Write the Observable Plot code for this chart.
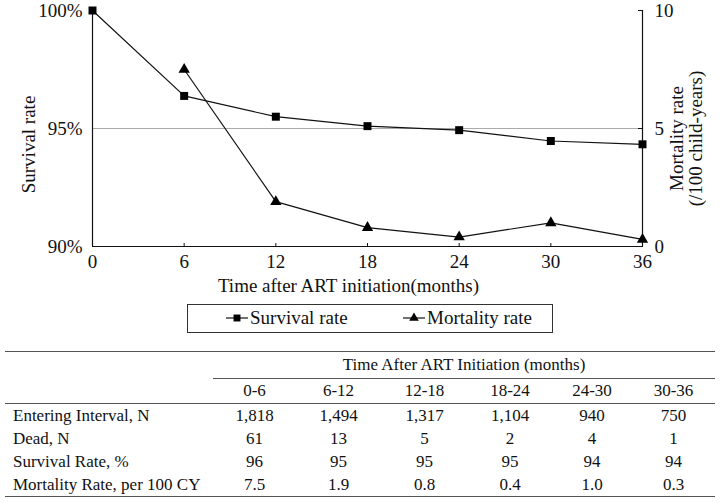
<!DOCTYPE html>
<html>
<head>
<meta charset="utf-8">
<script src="https://cdn.jsdelivr.net/npm/d3@7"></script>
<script src="https://cdn.jsdelivr.net/npm/@observablehq/plot@0.6"></script>
<style>
  html, body { margin: 0; padding: 0; background: #fff; }
  body { width: 720px; height: 502px; overflow: hidden; font-family: "Liberation Serif", "Times New Roman", serif; color: #111; }
  #legend { position: absolute; left: 187px; top: 304px; width: 364px; height: 27px; border: 1.5px solid #333; box-sizing: content-box; font-size: 19px; }
  #legend .item { position: absolute; top: 2px; white-space: nowrap; display: flex; align-items: center; }
  #legend svg { margin-right: 1px; }
  #tbl { position: absolute; left: 5px; top: 351px; width: 710px; border-collapse: collapse; font-size: 17px; }
  #tbl td { padding: 0; text-align: center; }
  #tbl td.lab { text-align: left; padding-left: 8px; }
  #tbl tr.top td { border-top: 1.5px solid #555; height: 26px; }
  #tbl tr.hdr td.span { border-bottom: 1.5px solid #555; }
  #tbl tr.cols td { border-bottom: 1.5px solid #555; height: 24px; }
  #tbl tr.row td { height: 23px; }
  #tbl tr.last td { border-bottom: 1.5px solid #555; }
</style>
</head>
<body>
<div id="chart"></div>
<div id="legend"></div>
<table id="tbl"></table>
<script>
// ---- data ----
const months = [0, 6, 12, 18, 24, 30, 36];
const survival = [100, 96.38, 95.50, 95.10, 94.93, 94.47, 94.33];
const mortMonths = [6, 12, 18, 24, 30, 36];
const mortality = [7.5, 1.9, 0.8, 0.4, 1.0, 0.3];
const xTicks = [0, 6, 12, 18, 24, 30, 36];
const leftTicks = [90, 95, 100];
const rightTicks = [0, 5, 10];
const seriesNames = ["Survival rate", "Mortality rate"];
const xTitle = "Time after ART initiation(months)";
const yLeftTitle = "Survival rate";
const yRightTitle = "Mortality rate\n(/100 child-years)";

const tableTitle = "Time After ART Initiation (months)";
const intervals = ["0-6", "6-12", "12-18", "18-24", "24-30", "30-36"];
const rowLabels = ["Entering Interval, N", "Dead, N", "Survival Rate, %", "Mortality Rate, per 100 CY"];
const entering = ["1,818", "1,494", "1,317", "1,104", "940", "750"];
const dead = ["61", "13", "5", "2", "4", "1"];
const survPct = ["96", "95", "95", "95", "94", "94"];
const mortRate = ["7.5", "1.9", "0.8", "0.4", "1.0", "0.3"];

// ---- chart ----
const survData = months.map((m, i) => ({month: m, value: survival[i]}));
const mortData = mortMonths.map((m, i) => ({month: m, value: mortality[i]}));
// mortality (0-10) shares the survival scale (90-100%) via an offset of 90
const mortOffset = 90;

const chart = Plot.plot({
  width: 720,
  height: 300,
  marginLeft: 92,
  marginRight: 78,
  marginTop: 10,
  marginBottom: 54,
  style: {fontFamily: "'Liberation Serif', 'Times New Roman', serif", fontSize: "19px", background: "white", color: "#111", overflow: "visible"},
  x: {domain: [0, 36]},
  y: {domain: [90, 100]},
  marks: [
    Plot.ruleY([95], {stroke: "#aaa", strokeWidth: 1.2}),
    Plot.ruleX([0], {stroke: "#111", strokeWidth: 1.2}),
    Plot.ruleX([36], {stroke: "#111", strokeWidth: 1.2}),
    Plot.ruleY([90], {stroke: "#111", strokeWidth: 1.2}),
    Plot.axisX({ticks: xTicks, tickSize: -3, tickPadding: 11, tickFormat: d => String(d), label: null}),
    Plot.axisY({anchor: "left", ticks: leftTicks, tickSize: 0, tickPadding: 10, tickFormat: d => d + "%", label: null}),
    Plot.axisY({anchor: "right", ticks: rightTicks.map(t => t + mortOffset), tickSize: -5, tickPadding: 17,
      tickFormat: d => String(d - mortOffset), label: null}),
    Plot.text([xTitle], {text: d => d, frameAnchor: "bottom", lineAnchor: "middle", textAnchor: "middle", dy: 39, dx: -19, fill: "#111"}),
    Plot.text([yLeftTitle], {text: d => d, frameAnchor: "left", rotate: -90, lineAnchor: "middle", textAnchor: "middle", dx: -64, dy: 16, fill: "#111"}),
    Plot.text([yRightTitle], {text: d => d, frameAnchor: "right", rotate: -90, lineAnchor: "middle", textAnchor: "middle", dx: 44, dy: 10, fill: "#111"}),
    Plot.line(survData, {x: "month", y: "value", stroke: "#111", strokeWidth: 1.2}),
    Plot.line(mortData, {x: "month", y: d => d.value + mortOffset, stroke: "#111", strokeWidth: 1.2}),
    Plot.dot(survData, {x: "month", y: "value", symbol: "square", r: 4.5, fill: "#000", stroke: "none"}),
    Plot.dot(mortData, {x: "month", y: d => d.value + mortOffset, symbol: "triangle", r: 4.2, fill: "#000", stroke: "none"})
  ]
});
document.getElementById("chart").appendChild(chart);

// ---- legend ----
const legend = document.getElementById("legend");
const legendLefts = [37, 214];
const legendSymbols = ["square", "triangle"];
seriesNames.forEach((name, i) => {
  const item = document.createElement("div");
  item.className = "item";
  item.style.left = legendLefts[i] + "px";
  const sym = d3.symbol(legendSymbols[i] === "square" ? d3.symbolSquare : d3.symbolTriangle, legendSymbols[i] === "square" ? 48 : 40)();
  item.innerHTML = `<svg width="24" height="20"><line x1="1" x2="23" y1="10" y2="10" stroke="#111" stroke-width="1.2"/><path d="${sym}" transform="translate(12,10)" fill="#000"/></svg><span>${name}</span>`;
  legend.appendChild(item);
});

// ---- table ----
const tbl = document.getElementById("tbl");
const colWidths = [208, 83, 85, 87, 84, 80, 83];
let html = "<colgroup>" + colWidths.map(w => `<col style="width:${w}px">`).join("") + "</colgroup>";
html += `<tr class="top hdr"><td></td><td class="span" colspan="${intervals.length}">${tableTitle}</td></tr>`;
html += `<tr class="cols"><td></td>${intervals.map(s => `<td>${s}</td>`).join("")}</tr>`;
const rows = [entering, dead, survPct, mortRate];
rows.forEach((vals, i) => {
  const cls = i === rows.length - 1 ? "row last" : "row";
  html += `<tr class="${cls}"><td class="lab">${rowLabels[i]}</td>${vals.map(v => `<td>${v}</td>`).join("")}</tr>`;
});
tbl.innerHTML = html;
</script>
</body>
</html>
